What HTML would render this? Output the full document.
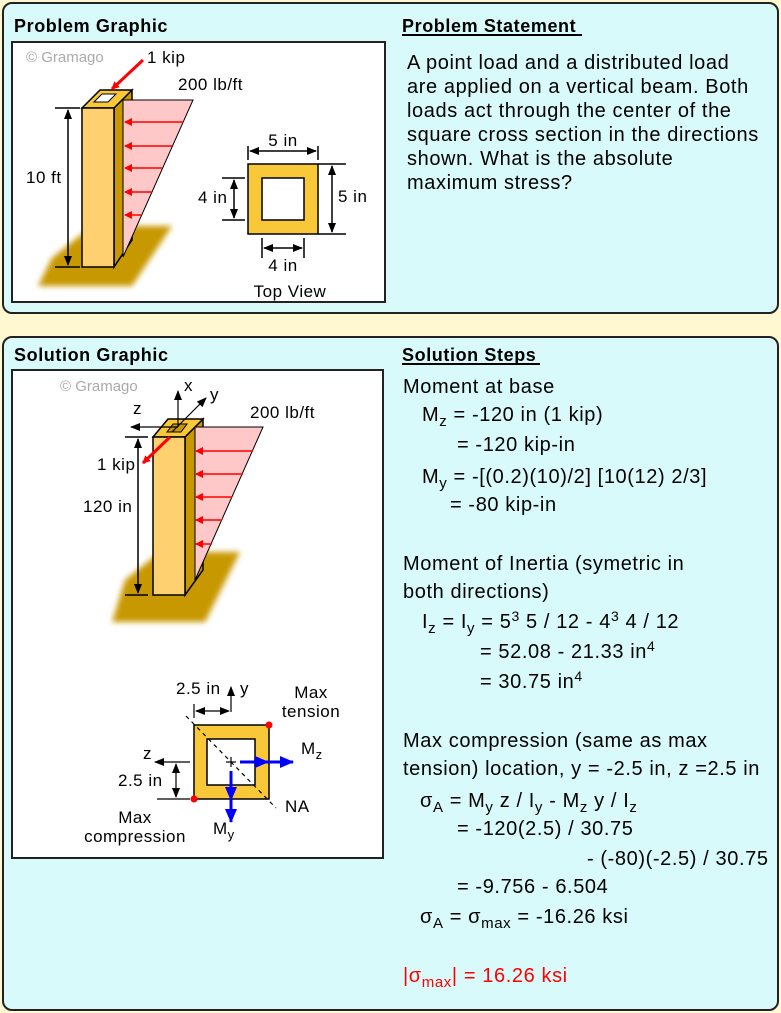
<!DOCTYPE html>
<html><head><meta charset="utf-8"><style>
html,body{margin:0;padding:0;background:#fff8d0;}
svg{display:block;font-family:"Liberation Sans",Arial,sans-serif;}
.t{font-size:20px;fill:#000;letter-spacing:0.6px;}
.s{font-size:17px;fill:#000;letter-spacing:0.5px;}
.h{font-size:18px;font-weight:bold;letter-spacing:0.6px;}
</style></head><body>
<svg width="781" height="1013" viewBox="0 0 781 1013" xmlns="http://www.w3.org/2000/svg">
<defs>
<marker id="ar" markerWidth="8" markerHeight="8" refX="7" refY="4" orient="auto" markerUnits="userSpaceOnUse"><path d="M0,0 L8,4 L0,8 Z" fill="#f00"/></marker>
<marker id="ak" markerWidth="10" markerHeight="8" refX="9" refY="4" orient="auto-start-reverse" markerUnits="userSpaceOnUse"><path d="M0,0 L10,4 L0,8 Z" fill="#000"/></marker>
<marker id="ab" markerWidth="14" markerHeight="12" refX="13" refY="6" orient="auto" markerUnits="userSpaceOnUse"><path d="M0,0 L14,6 L0,12 Z" fill="#00f"/></marker>
<filter id="bl"><feGaussianBlur stdDeviation="3"/></filter>
</defs>
<rect x="0" y="0" width="781" height="1013" fill="#fff8d0"/>
<rect x="3" y="3" width="775" height="310" rx="9" fill="#d8fafa" stroke="#222" stroke-width="2"/>
<rect x="3" y="337" width="775" height="673" rx="9" fill="#d8fafa" stroke="#222" stroke-width="2"/>
<text x="14" y="32" class="h">Problem Graphic</text>
<text x="402" y="32" class="h">Problem Statement</text>
<line x1="402" y1="35" x2="582" y2="35" stroke="#000" stroke-width="2"/>
<text x="14" y="361" class="h">Solution Graphic</text>
<text x="402" y="361" class="h">Solution Steps</text>
<line x1="402" y1="364" x2="540" y2="364" stroke="#000" stroke-width="2"/>

<text x="407" y="69" class="t">A point load and a distributed load</text>
<text x="407" y="93" class="t">are applied on a vertical beam. Both</text>
<text x="407" y="117" class="t">loads act through the center of the</text>
<text x="407" y="141" class="t">square cross section in the directions</text>
<text x="407" y="165" class="t">shown. What is the absolute</text>
<text x="407" y="189" class="t">maximum stress?</text>

<rect x="12" y="42" width="373" height="260" fill="#fff" stroke="#222" stroke-width="2"/>
<text x="26" y="62" font-size="15" fill="#aaa">© Gramago</text>
<polygon points="52,258 92,226 172,226 132,286 38,286" fill="#c89800" filter="url(#bl)"/>
<polygon points="114,108 132,90 132,240 114,267" fill="#c89800" stroke="#000" stroke-width="1.5"/>
<polygon points="82,108 100,90 132,90 114,108" fill="#f8c838" stroke="#000" stroke-width="1.5"/>
<polygon points="94,102 102,94 116,94 108,102" fill="#fff" stroke="#000" stroke-width="1"/>
<polygon points="123,100 193,100 123,257" fill="#ffc8c8" stroke="#000" stroke-width="1"/>
<rect x="82" y="108" width="32" height="159" fill="#ffd070" stroke="#000" stroke-width="1.5"/>
<g stroke="#f00" stroke-width="1.5" marker-end="url(#ar)">
<line x1="183" y1="122" x2="125" y2="122"/><line x1="172" y1="146" x2="125" y2="146"/>
<line x1="162" y1="168" x2="125" y2="168"/><line x1="152" y1="192" x2="125" y2="192"/>
<line x1="141" y1="215" x2="125" y2="215"/>
</g>
<line x1="143" y1="60" x2="112" y2="89" stroke="#f00" stroke-width="3" marker-end="url(#ar)"/>
<text x="147" y="63" class="s">1 kip</text>
<text x="178" y="90" class="s">200 lb/ft</text>
<line x1="68" y1="110" x2="68" y2="265" stroke="#000" stroke-width="1.5" marker-start="url(#ak)" marker-end="url(#ak)"/>
<line x1="55" y1="108" x2="80" y2="108" stroke="#000" stroke-width="1.5"/>
<line x1="55" y1="267" x2="80" y2="267" stroke="#000" stroke-width="1.5"/>
<text x="26" y="183" class="s">10 ft</text>
<rect x="248" y="164" width="70" height="70" fill="#f8c838" stroke="#000" stroke-width="1.5"/>
<rect x="262" y="178" width="42" height="42" fill="#fff" stroke="#000" stroke-width="1.5"/>
<g stroke="#000" stroke-width="1.5">
<line x1="248" y1="146" x2="248" y2="160"/><line x1="318" y1="146" x2="318" y2="160"/>
<line x1="250" y1="151" x2="316" y2="151" marker-start="url(#ak)" marker-end="url(#ak)"/>
<line x1="318" y1="164" x2="346" y2="164"/><line x1="318" y1="234" x2="346" y2="234"/>
<line x1="332" y1="166" x2="332" y2="232" marker-start="url(#ak)" marker-end="url(#ak)"/>
<line x1="222" y1="178" x2="245" y2="178"/><line x1="222" y1="220" x2="245" y2="220"/>
<line x1="234" y1="180" x2="234" y2="218" marker-start="url(#ak)" marker-end="url(#ak)"/>
<line x1="262" y1="238" x2="262" y2="258"/><line x1="304" y1="238" x2="304" y2="258"/>
<line x1="264" y1="248" x2="302" y2="248" marker-start="url(#ak)" marker-end="url(#ak)"/>
</g>
<text x="283" y="146" class="s" text-anchor="middle">5 in</text>
<text x="338" y="202" class="s">5 in</text>
<text x="198" y="203" class="s">4 in</text>
<text x="283" y="271" class="s" text-anchor="middle">4 in</text>
<text x="290" y="297" class="s" text-anchor="middle">Top View</text>

<rect x="12" y="370" width="371" height="488" fill="#fff" stroke="#222" stroke-width="2"/>
<text x="60" y="391" font-size="15" fill="#aaa">© Gramago</text>
<polygon points="125,580 160,552 240,552 205,622 112,622" fill="#c89800" filter="url(#bl)"/>
<polygon points="185,437 203,419 203,570 185,595" fill="#c89800" stroke="#000" stroke-width="1.5"/>
<polygon points="195,427 263,427 195,580" fill="#ffc8c8" stroke="#000" stroke-width="1"/>
<polygon points="153,437 168,419 203,419 185,437" fill="#f8c838" stroke="#000" stroke-width="1.5"/>
<polygon points="167,432 173,424 187,424 181,432" fill="#c89800" stroke="#000" stroke-width="1"/>
<rect x="153" y="437" width="32" height="158" fill="#ffd070" stroke="#000" stroke-width="1.5"/>
<g stroke="#f00" stroke-width="1.5" marker-end="url(#ar)">
<line x1="253" y1="451" x2="196" y2="451"/><line x1="243" y1="474" x2="196" y2="474"/>
<line x1="232" y1="497" x2="196" y2="497"/><line x1="222" y1="520" x2="196" y2="520"/>
<line x1="212" y1="544" x2="196" y2="544"/>
</g>
<line x1="170" y1="437" x2="143" y2="463" stroke="#f00" stroke-width="3" marker-end="url(#ar)"/>
<g stroke="#000" stroke-width="1.2">
<line x1="178" y1="427" x2="178" y2="391" marker-end="url(#ak)"/>
<line x1="172" y1="432" x2="206" y2="398" marker-end="url(#ak)"/>
<line x1="178" y1="427" x2="131" y2="427" marker-end="url(#ak)"/>
</g>
<text x="184" y="391" class="s">x</text>
<text x="210" y="400" class="s">y</text>
<text x="133" y="414" class="s">z</text>
<text x="250" y="418" class="s">200 lb/ft</text>
<text x="97" y="470" class="s">1 kip</text>
<text x="83" y="512" class="s">120 in</text>
<line x1="138" y1="439" x2="138" y2="593" stroke="#000" stroke-width="1.5" marker-start="url(#ak)" marker-end="url(#ak)"/>
<line x1="125" y1="437" x2="148" y2="437" stroke="#000" stroke-width="1.5"/>
<line x1="125" y1="595" x2="148" y2="595" stroke="#000" stroke-width="1.5"/>
<rect x="194" y="725" width="75" height="74" fill="#f8c838" stroke="#000" stroke-width="1.5"/>
<rect x="207" y="739" width="48" height="46" fill="#fff" stroke="#000" stroke-width="1.5"/>
<line x1="186" y1="716" x2="276" y2="808" stroke="#000" stroke-width="1.2" stroke-dasharray="4,4"/>
<circle cx="269" cy="725" r="3.5" fill="#f00"/>
<circle cx="194" cy="799" r="3.5" fill="#f00"/>
<g stroke="#000" stroke-width="1.2">
<line x1="231" y1="712" x2="231" y2="687" marker-end="url(#ak)"/>
<line x1="194" y1="704" x2="194" y2="718"/>
<line x1="196" y1="711" x2="229" y2="711" marker-start="url(#ak)" marker-end="url(#ak)"/>
<line x1="190" y1="762" x2="155" y2="762" marker-end="url(#ak)"/>
<line x1="157" y1="799" x2="190" y2="799"/>
<line x1="176" y1="764" x2="176" y2="797" marker-start="url(#ak)" marker-end="url(#ak)"/>
<line x1="226" y1="762" x2="236" y2="762"/><line x1="231" y1="757" x2="231" y2="767"/>
</g>
<line x1="240" y1="762" x2="268" y2="762" stroke="#00f" stroke-width="3" marker-end="url(#ab)"/>
<line x1="262" y1="762" x2="293" y2="762" stroke="#00f" stroke-width="3" marker-end="url(#ab)"/>
<line x1="231" y1="771" x2="231" y2="800" stroke="#00f" stroke-width="3" marker-end="url(#ab)"/>
<line x1="231" y1="795" x2="231" y2="822" stroke="#00f" stroke-width="3" marker-end="url(#ab)"/>
<text x="176" y="694" class="s">2.5 in</text>
<text x="240" y="694" class="s">y</text>
<text x="311" y="698" class="s" text-anchor="middle">Max</text>
<text x="311" y="717" class="s" text-anchor="middle">tension</text>
<text x="143" y="759" class="s">z</text>
<text x="118" y="786" class="s">2.5 in</text>
<text x="301" y="754" class="s">M<tspan font-size="13" dy="5">z</tspan></text>
<text x="213" y="834" class="s">M<tspan font-size="13" dy="5">y</tspan></text>
<text x="285" y="812" class="s">NA</text>
<text x="135" y="823" class="s" text-anchor="middle">Max</text>
<text x="135" y="842" class="s" text-anchor="middle">compression</text>

<text x="403" y="393" class="t">Moment at base</text>
<text x="422" y="421" class="t">M<tspan font-size="15" dy="5">z</tspan><tspan dy="-5"> = -120 in (1 kip)</tspan></text>
<text x="457" y="451" class="t">= -120 kip-in</text>
<text x="422" y="483" class="t">M<tspan font-size="15" dy="5">y</tspan><tspan dy="-5"> = -[(0.2)(10)/2] [10(12) 2/3]</tspan></text>
<text x="450" y="511" class="t">= -80 kip-in</text>
<text x="403" y="570" class="t">Moment of Inertia (symetric in</text>
<text x="403" y="598" class="t">both directions)</text>
<text x="422" y="628" class="t">I<tspan font-size="15" dy="5">z</tspan><tspan dy="-5"> = I</tspan><tspan font-size="15" dy="5">y</tspan><tspan dy="-5"> = 5</tspan><tspan font-size="14" dy="-7">3</tspan><tspan dy="7"> 5 / 12 - 4</tspan><tspan font-size="14" dy="-7">3</tspan><tspan dy="7"> 4 / 12</tspan></text>
<text x="480" y="658" class="t">= 52.08 - 21.33 in<tspan font-size="14" dy="-7">4</tspan></text>
<text x="480" y="688" class="t">= 30.75 in<tspan font-size="14" dy="-7">4</tspan></text>
<text x="403" y="747" class="t">Max compression (same as max</text>
<text x="403" y="775" class="t">tension) location, y = -2.5 in, z =2.5 in</text>
<text x="420" y="807" class="t">σ<tspan font-size="15" dy="5">A</tspan><tspan dy="-5"> = M</tspan><tspan font-size="15" dy="5">y</tspan><tspan dy="-5"> z / I</tspan><tspan font-size="15" dy="5">y</tspan><tspan dy="-5"> - M</tspan><tspan font-size="15" dy="5">z</tspan><tspan dy="-5"> y / I</tspan><tspan font-size="15" dy="5">z</tspan></text>
<text x="457" y="835" class="t">= -120(2.5) / 30.75</text>
<text x="587" y="865" class="t">- (-80)(-2.5) / 30.75</text>
<text x="457" y="893" class="t">= -9.756 - 6.504</text>
<text x="420" y="923" class="t">σ<tspan font-size="15" dy="5">A</tspan><tspan dy="-5"> = σ</tspan><tspan font-size="15" dy="5">max</tspan><tspan dy="-5"> = -16.26 ksi</tspan></text>
<text x="403" y="982" class="t" style="fill:#f00">|σ<tspan font-size="15" dy="5">max</tspan><tspan dy="-5">| = 16.26 ksi</tspan></text>
</svg>
</body></html>
